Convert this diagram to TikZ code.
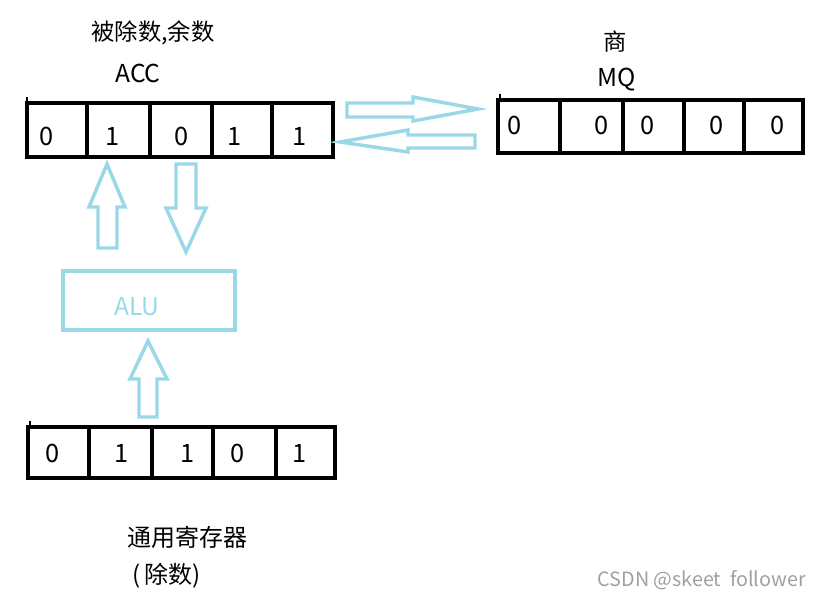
\documentclass[tikz,border=0pt]{standalone}
\usepackage{fontspec}
\setmainfont{Noto Sans CJK SC}
\definecolor{lblue}{RGB}{154,216,232}
\definecolor{wm}{RGB}{160,160,160}
\begin{document}
\begin{tikzpicture}[x=0.75pt,y=-0.75pt,
  cell/.style={draw=black,line width=3pt},
  blk/.style={draw=lblue,line width=2.6pt,line join=miter},
  num/.style={font=\fontsize{19}{22}\selectfont,inner sep=0pt},
  lab/.style={font=\fontsize{17.5}{20}\selectfont,inner sep=0pt},
  latl/.style={font=\fontsize{18.5}{22}\selectfont,inner sep=0pt}]
\useasboundingbox (0,0) rectangle (822,597);
% ACC register
\foreach \a/\b [count=\i] in {27/87,87/150,150/212,212/272,272/333}{
  \draw[cell] (\a,103) rectangle (\b,157);
}
\draw[line width=1pt] (27,97) -- (27,103);
\foreach \x/\t [count=\i] in {47/0,113/1,182/0,235/1,300/1}{
  \node[num] (acc\i) at (\x,136) {\t};
}
% MQ register
\foreach \a/\b in {498/560,560/623,623/684,684/744,744/803}{
  \draw[cell] (\a,100) rectangle (\b,153);
}
\draw[line width=1pt] (500,94) -- (500,100);
\foreach \x/\t [count=\i] in {515/0,602/0,648/0,717/0,778/0}{
  \node[num] (mq\i) at (\x,125) {\t};
}
% bottom register
\foreach \a/\b in {28/89,89/152,152/213,213/276,276/335}{
  \draw[cell] (\a,427) rectangle (\b,478);
}
\draw[line width=1pt] (30,421) -- (30,427);
\foreach \x/\t [count=\i] in {53/0,122/1,188/1,238/0,300/1}{
  \node[num] (gr\i) at (\x,453) {\t};
}
% labels
\node[lab] (lbl1) at (153,33) {被除数,余数};
\node[latl] (lbl2) at (138,73) {ACC};
\node[lab] (lbl3) at (615,42) {商};
\node[latl] (lbl4) at (617,80) {MQ};
\node[lab,font=\fontsize{18}{20}\selectfont] (lbl5) at (187,537) {通用寄存器};
\node[lab,font=\fontsize{18}{20}\selectfont,anchor=west] (lbl6) at (132,576) {(\,除数)};
% ALU
\draw[blk] (63,271) rectangle (235,330);
\node[latl,text=lblue] (alu) at (137,307) {ALU};
% arrows
\draw[blk] (98,248) -- (98,207) -- (89,207) -- (107,164) -- (125,207) -- (117,207) -- (117,248) -- cycle;
\draw[blk] (176,164) -- (196,164) -- (196,208) -- (206,208) -- (186,252) -- (166,208) -- (176,208) -- cycle;
\draw[blk] (139,417) -- (139,379) -- (130,379) -- (148,341) -- (167,379) -- (157,379) -- (157,417) -- cycle;
\draw[blk] (347,103) -- (413,103) -- (413,97) -- (478,109) -- (413,121) -- (413,117) -- (347,117) -- cycle;
\draw[blk] (475,135) -- (408,135) -- (408,130) -- (340,142) -- (408,152) -- (408,148) -- (475,148) -- cycle;
% watermark
\node[font=\fontsize{14.8}{17}\selectfont,text=wm,inner sep=0pt,anchor=east] (wmk) at (806,580) {CSDN @skeet\ \ follower};
\end{tikzpicture}
\end{document}
